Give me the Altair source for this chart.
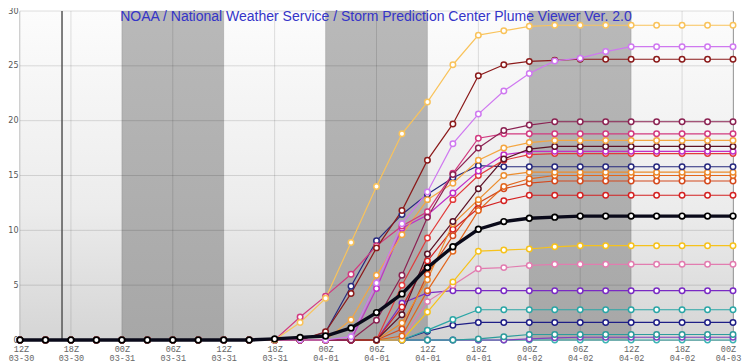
import json
import altair as alt
import pandas as pd

# ---------------- data ----------------
# x index: 3-hourly steps from 12Z 03-30 (0) to 00Z 04-03 (28)
tick_hours = ["12Z", "18Z", "00Z", "06Z", "12Z", "18Z", "00Z", "06Z", "12Z", "18Z",
              "00Z", "06Z", "12Z", "18Z", "00Z"]
tick_dates = ["03-30", "03-30", "03-31", "03-31", "03-31", "03-31", "04-01", "04-01",
              "04-01", "04-01", "04-02", "04-02", "04-02", "04-02", "04-03"]
tick_index = [0, 2, 4, 6, 8, 10, 12, 14, 16, 18, 20, 22, 24, 26, 28]
y_ticks = [0, 5, 10, 15, 20, 25, 30]

night_start = [4, 12, 20]
night_end = [8, 16, 24]
current_time = [1.65]

title_text = "NOAA / National Weather Service / Storm Prediction Center Plume Viewer Ver. 2.0"

m01 = [0, 0, 0, 0, 0, 0, 0, 0, 0, 0, 0, 1.6, 3.8, 8.9, 14.0, 18.8, 21.7, 25.1, 27.8, 28.2, 28.6, 28.7, 28.7, 28.7, 28.7, 28.7, 28.7, 28.7, 28.7]
m02 = [0, 0, 0, 0, 0, 0, 0, 0, 0, 0, 0, 0, 0, 0.3, 5.2, 10.6, 13.5, 17.9, 20.6, 22.7, 24.3, 25.45, 25.7, 26.3, 26.75, 26.75, 26.75, 26.75, 26.75]
m03 = [0, 0, 0, 0, 0, 0, 0, 0, 0, 0, 0, 0, 0.75, 4.25, 8.4, 11.8, 16.4, 19.7, 24.1, 25.1, 25.4, 25.5, 25.6, 25.6, 25.6, 25.6, 25.6, 25.6, 25.6]
m04 = [0, 0, 0, 0, 0, 0, 0, 0, 0, 0, 0, 0, 0, 0, 1.8, 5.9, 11.2, 15.1, 17.5, 19.1, 19.6, 19.9, 19.9, 19.9, 19.9, 19.9, 19.9, 19.9, 19.9]
m05 = [0, 0, 0, 0, 0, 0, 0, 0, 0, 0, 0, 2.1, 4.0, 6.0, 8.6, 10.4, 11.7, 15.2, 18.4, 18.8, 18.8, 18.8, 18.8, 18.8, 18.8, 18.8, 18.8, 18.8, 18.8]
m06 = [0, 0, 0, 0, 0, 0, 0, 0, 0, 0, 0, 0, 0, 1.85, 5.9, 9.6, 12.8, 14.3, 16.4, 17.5, 18.0, 18.2, 18.2, 18.2, 18.2, 18.2, 18.2, 18.2, 18.2]
m07 = [0, 0, 0, 0, 0, 0, 0, 0, 0, 0, 0, 0, 0, 0, 0, 2.3, 7.85, 10.8, 13.8, 16.5, 17.4, 17.65, 17.65, 17.65, 17.65, 17.65, 17.65, 17.65, 17.65]
m08 = [0, 0, 0, 0, 0, 0, 0, 0, 0, 0, 0, 0, 0, 0, 4.7, 10.2, 11.4, 13.4, 15.4, 16.9, 17.2, 17.2, 17.2, 17.2, 17.2, 17.2, 17.2, 17.2, 17.2]
m09 = [0, 0, 0, 0, 0, 0, 0, 0, 0, 0, 0, 0, 0, 0, 0, 5.0, 9.3, 12.8, 15.0, 16.4, 16.9, 17.0, 17.0, 17.0, 17.0, 17.0, 17.0, 17.0, 17.0]
m10 = [0, 0, 0, 0, 0, 0, 0, 0, 0, 0, 0, 0, 0.7, 4.9, 9.05, 11.45, 13.3, 14.8, 15.9, 15.8, 15.8, 15.8, 15.8, 15.8, 15.8, 15.8, 15.8, 15.8, 15.8]
m11 = [0, 0, 0, 0, 0, 0, 0, 0, 0, 0, 0, 0, 0, 0, 0, 1.55, 5.5, 10.6, 12.8, 15.0, 15.3, 15.3, 15.3, 15.3, 15.3, 15.3, 15.3, 15.3, 15.3]
m12 = [0, 0, 0, 0, 0, 0, 0, 0, 0, 0, 0, 0, 0, 0, 0, 0.36, 4.5, 8.1, 11.8, 14.0, 14.7, 15.0, 15.0, 15.0, 15.0, 15.0, 15.0, 15.0, 15.0]
m13 = [0, 0, 0, 0, 0, 0, 0, 0, 0, 0, 0, 0, 0, 0, 0, 1.0, 6.0, 9.5, 12.5, 13.8, 14.3, 14.5, 14.5, 14.5, 14.5, 14.5, 14.5, 14.5, 14.5]
m14 = [0, 0, 0, 0, 0, 0, 0, 0, 0, 0, 0, 0, 0, 0, 0, 3.0, 7.2, 10.1, 12.0, 12.7, 13.2, 13.2, 13.2, 13.2, 13.2, 13.2, 13.2, 13.2, 13.2]
m15 = [0, 0, 0, 0, 0, 0, 0, 0, 0, 0, 0, 0, 0, 0, 0, 0, 2.55, 5.3, 8.1, 8.2, 8.3, 8.5, 8.6, 8.6, 8.6, 8.6, 8.6, 8.6, 8.6]
m16 = [0, 0, 0, 0, 0, 0, 0, 0, 0, 0, 0, 0, 0, 0, 0, 0, 3.5, 5.0, 6.5, 6.6, 6.8, 6.9, 6.9, 6.9, 6.9, 6.9, 6.9, 6.9, 6.9]
m17 = [0, 0, 0, 0, 0, 0, 0, 0, 0, 0, 0, 0, 0, 0, 0, 3.35, 4.3, 4.5, 4.5, 4.5, 4.5, 4.5, 4.5, 4.5, 4.5, 4.5, 4.5, 4.5, 4.5]
m18 = [0, 0, 0, 0, 0, 0, 0, 0, 0, 0, 0, 0, 0, 0, 0, 0, 0.9, 1.86, 2.76, 2.76, 2.76, 2.76, 2.76, 2.76, 2.76, 2.76, 2.76, 2.76, 2.76]
m19 = [0, 0, 0, 0, 0, 0, 0, 0, 0, 0, 0, 0, 0, 0, 0, 0, 0.8, 1.35, 1.6, 1.6, 1.6, 1.6, 1.6, 1.6, 1.6, 1.6, 1.6, 1.6, 1.6]
m20 = [0, 0, 0, 0, 0, 0, 0, 0, 0, 0, 0, 0, 0, 0, 0, 0, 0, 0, 0.1, 0.3, 0.5, 0.5, 0.5, 0.5, 0.5, 0.5, 0.5, 0.5, 0.5]
m21 = [0, 0, 0, 0, 0, 0, 0, 0, 0, 0, 0, 0, 0, 0, 0, 0, 0, 0, 0, 0, 0.1, 0.2, 0.25, 0.25, 0.25, 0.25, 0.25, 0.25, 0.25]
m22 = [0, 0, 0, 0, 0, 0, 0, 0, 0, 0, 0, 0, 0, 0, 0, 0, 0, 0, 0, 0, 0, 0, 0, 0, 0, 0, 0, 0, 0]
mean = [0, 0, 0, 0, 0, 0, 0, 0, 0, 0, 0.1, 0.24, 0.36, 1.1, 2.5, 4.2, 6.6, 8.5, 10.1, 10.8, 11.1, 11.2, 11.3, 11.3, 11.3, 11.3, 11.3, 11.3, 11.3]

member_names = ["m22", "m21", "m20", "m19", "m18", "m17", "m16", "m15", "m14", "m13", "m12",
                "m11", "m10", "m09", "m08", "m07", "m06", "m05", "m04", "m03", "m02", "m01"]
member_values = [m22, m21, m20, m19, m18, m17, m16, m15, m14, m13, m12,
                 m11, m10, m09, m08, m07, m06, m05, m04, m03, m02, m01]
member_colors = ["#3cb4b4", "#8040c0", "#2c9c9c", "#1e1e86", "#2aa6a6", "#7a2ac4", "#e27cb0",
                 "#f6c21c", "#d42222", "#d4481c", "#e2661c", "#ec8c2c", "#26287e", "#e23b3b",
                 "#c02ec8", "#5c1226", "#f4a641", "#d23a80", "#8b2252", "#8b1a1a", "#cf78f0",
                 "#f9c35b"]

# ---------------- tables ----------------
rows = []
for name, vals in zip(member_names, member_values):
    for i, v in enumerate(vals):
        rows.append({"series": name, "i": i, "v": v})
members = pd.DataFrame(rows)
mean_df = pd.DataFrame({"i": list(range(len(mean))), "v": mean})
bands = pd.DataFrame({"x0": night_start, "x1": night_end, "y0": 0, "y1": 30})
bg = pd.DataFrame({"x0": [0], "x1": [28], "y0": [0], "y1": [30]})
hgrid = pd.DataFrame({"v": y_ticks[1:]})
vgrid = pd.DataFrame({"i": tick_index})
now_df = pd.DataFrame({"i": current_time})

label_expr = "[" + json.dumps(tick_hours) + "[datum.value/2], " + json.dumps(tick_dates) + "[datum.value/2]]"

xscale = alt.Scale(domain=[0, 28], nice=False, zero=False)
yscale = alt.Scale(domain=[0, 30], nice=False)

x_axis = alt.Axis(values=tick_index, labelExpr=label_expr, title=None, grid=False, ticks=False,
                  domain=False, labelFont="Liberation Mono", labelFontSize=8.5, labelColor="#666666",
                  labelLineHeight=9.5, labelPadding=4, labelFlush=False, labelOverlap=False,
                  labelOffset={"expr": "datum.value == 28 ? -5 : (datum.value == 0 ? 1 : 0)"})
y_axis = alt.Axis(values=y_ticks, title=None, grid=False, ticks=False, domainColor="#777777",
                  domainWidth=1.5, labelFont="DejaVu Sans", labelFontSize=8, labelColor="#555555",
                  labelPadding=2)

bg_layer = alt.Chart(bg).mark_rect(
    fill=alt.Gradient(gradient="linear",
                      stops=[alt.GradientStop(color="#fcfcfc", offset=0),
                             alt.GradientStop(color="#ececec", offset=0.6),
                             alt.GradientStop(color="#d5d5d5", offset=1)],
                      x1=0, x2=0, y1=0, y2=1)
).encode(
    x=alt.X("x0:Q", scale=xscale, axis=x_axis), x2="x1:Q",
    y=alt.Y("y0:Q", scale=yscale, axis=y_axis), y2="y1:Q")

band_layer = alt.Chart(bands).mark_rect(
    fill=alt.Gradient(gradient="linear",
                      stops=[alt.GradientStop(color="#b9b9b9", offset=0),
                             alt.GradientStop(color="#a7a7a7", offset=1)],
                      x1=0, x2=0, y1=0, y2=1)
).encode(x="x0:Q", x2="x1:Q", y="y0:Q", y2="y1:Q")

hgrid_layer = alt.Chart(hgrid).mark_rule(color="black", opacity=0.13, strokeWidth=1).encode(y="v:Q")
vgrid_layer = alt.Chart(vgrid).mark_rule(color="black", opacity=0.12, strokeWidth=1).encode(x="i:Q")
now_layer = alt.Chart(now_df).mark_rule(color="#555555", strokeWidth=1.5).encode(x="i:Q")

cscale = alt.Scale(domain=member_names, range=member_colors)
line_layer = alt.Chart(members).mark_line(strokeWidth=1.2).encode(
    x="i:Q", y="v:Q", color=alt.Color("series:N", scale=cscale, legend=None))
pt_layer = alt.Chart(members).mark_point(filled=True, fill="white", size=30, strokeWidth=1.5, opacity=1).encode(
    x="i:Q", y="v:Q", stroke=alt.Stroke("series:N", scale=cscale, legend=None))

mean_line = alt.Chart(mean_df).mark_line(color="#0a0a1a", strokeWidth=3.4).encode(x="i:Q", y="v:Q")
mean_pts = alt.Chart(mean_df).mark_point(filled=True, fill="white", stroke="black", size=32,
                                         strokeWidth=1.7, opacity=1).encode(x="i:Q", y="v:Q")

title_layer = alt.Chart(pd.DataFrame({"t": [title_text]})).mark_text(
    font="Liberation Sans", fontSize=14, color="#3434c8", align="center", baseline="middle"
).encode(x=alt.value(356), y=alt.value(6), text="t:N")

chart = alt.layer(bg_layer, band_layer, hgrid_layer, vgrid_layer, now_layer,
                  line_layer, pt_layer, mean_line, mean_pts, title_layer).properties(
    width=713, height=329,
    padding={"left": 12, "top": 3, "right": 9, "bottom": 23},
    autosize=alt.AutoSizeParams(type="none"),
    background="white"
).configure_view(stroke="#aaaaaa", strokeWidth=1)

chart.save("out.html", embed_options={"renderer": "svg", "actions": False})
